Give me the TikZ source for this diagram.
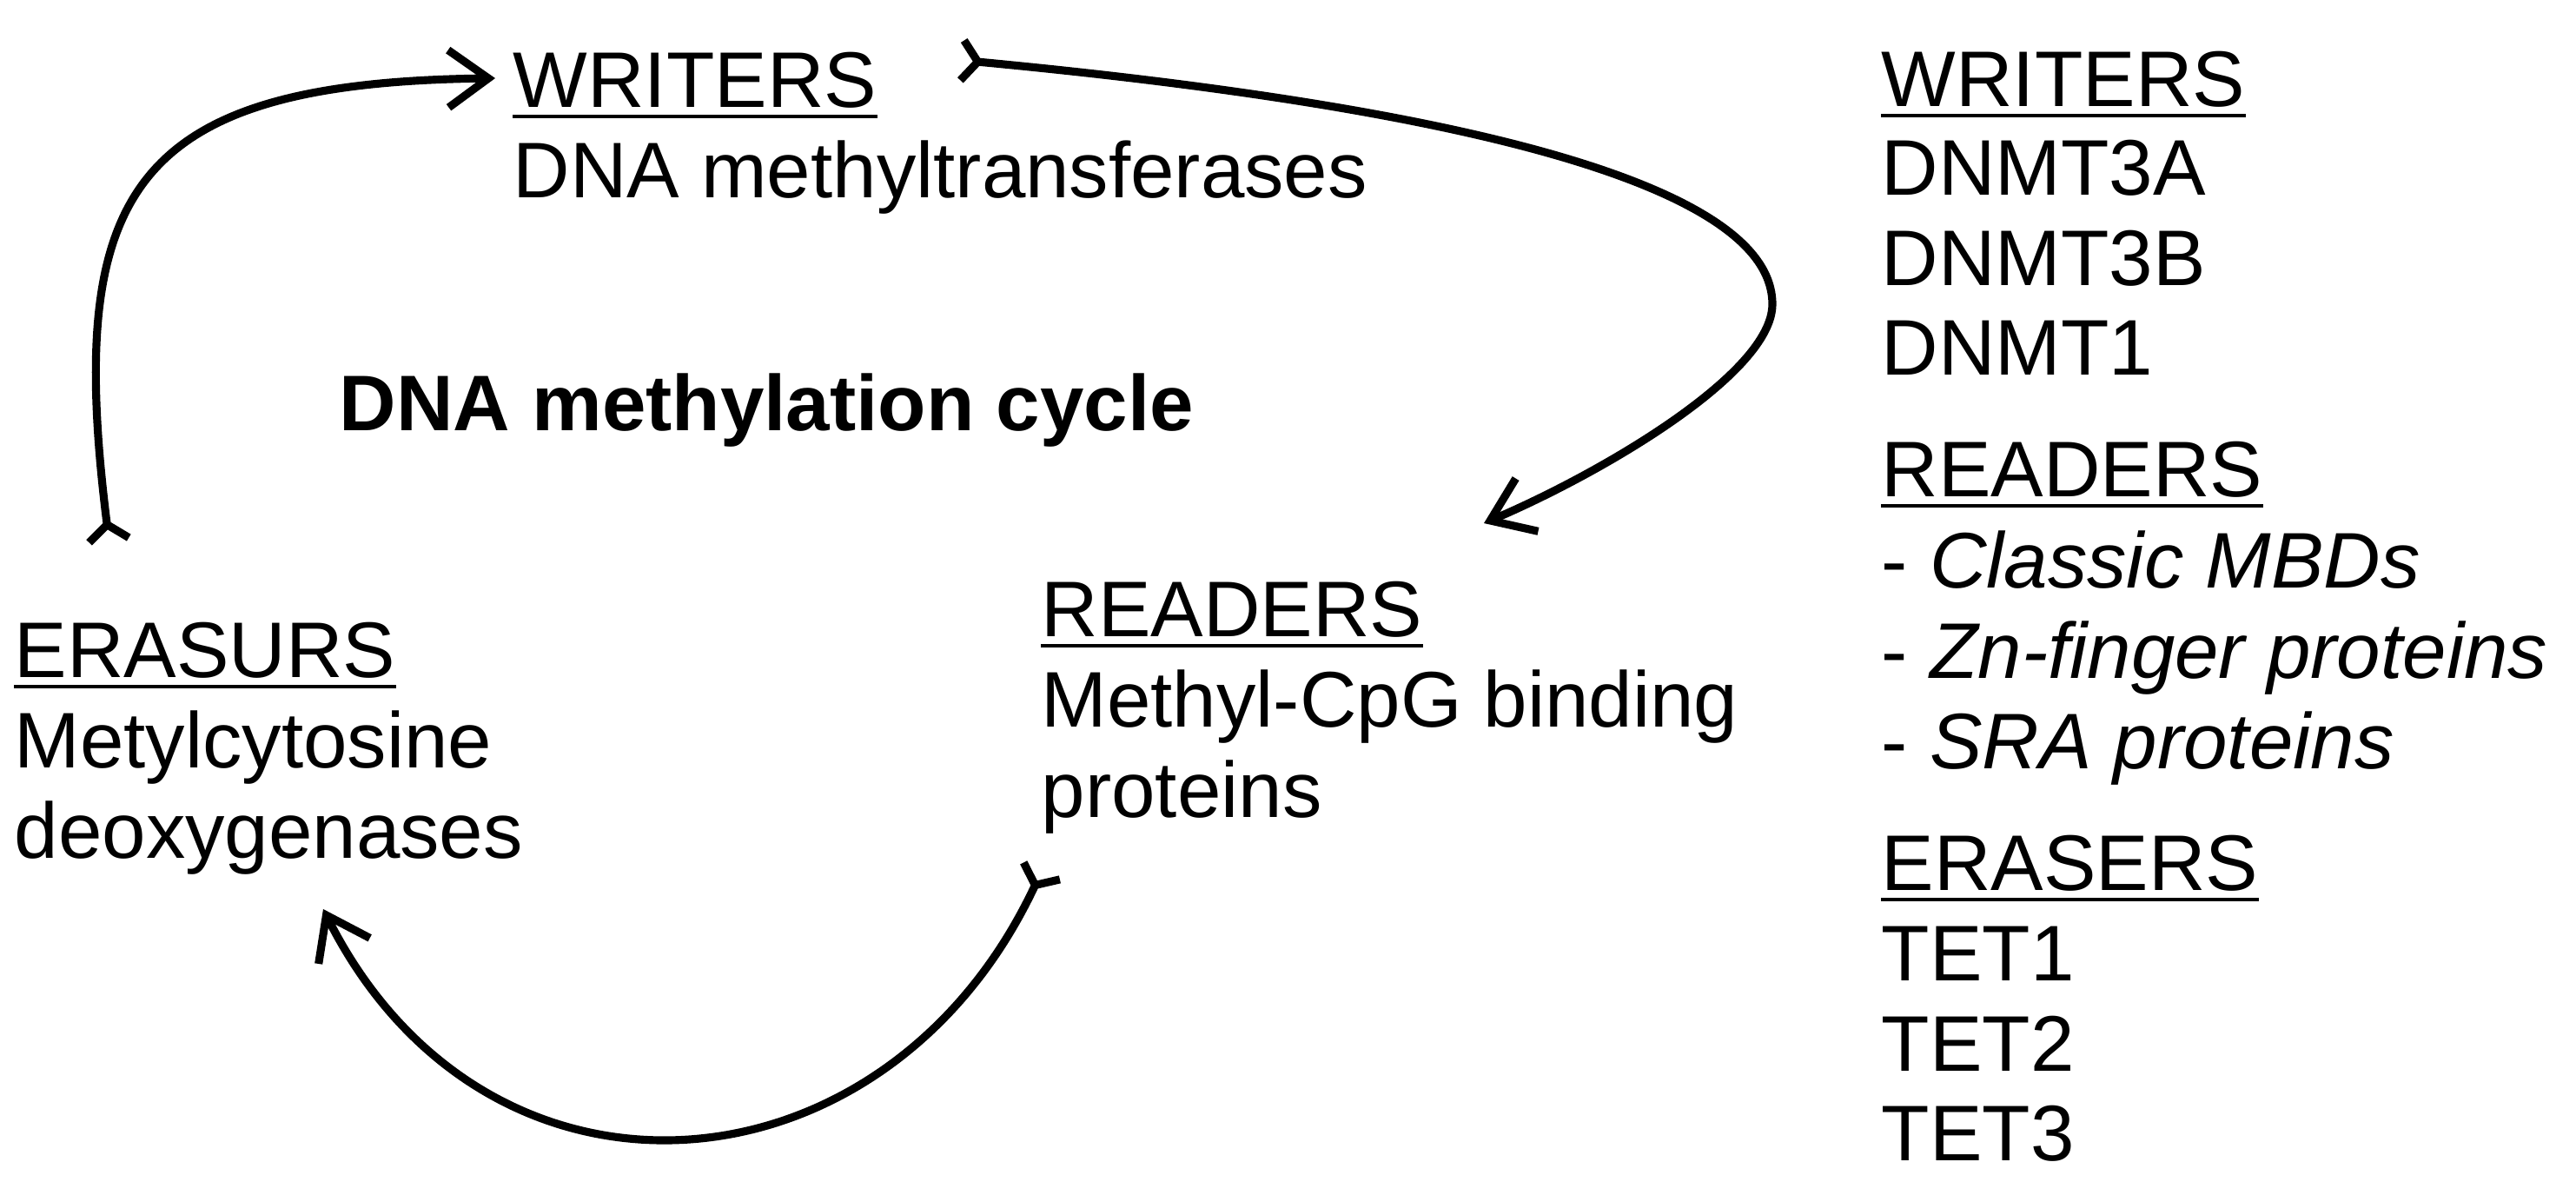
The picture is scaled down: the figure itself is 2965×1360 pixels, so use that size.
\documentclass[tikz,border=0pt]{standalone}
\usepackage{fontspec}
\setmainfont{Liberation Sans}
\usetikzlibrary{arrows.meta}
\begin{document}
\begin{tikzpicture}[x=0.01cm,y=-0.01cm,
  txt/.style={inner sep=0pt, anchor=base west, font=\fontsize{25.8pt}{29.6pt}\selectfont},
  bold/.style={txt, font=\fontsize{25.8pt}{29.6pt}\selectfont\bfseries},
  uline/.style={line width=1.4pt},
  cyc/.style={line width=2.6pt,
    {Straight Barb[reversed,length=1.8mm,width=4.6mm]}-{Straight Barb[length=4.6mm,width=6.6mm]}}
]
\useasboundingbox (0,0) rectangle (2965,1360);

% left cycle texts
\node[txt] (wL) at (590,123) {WRITERS};
\node[txt] (wLd) at (590,227) {DNA methyltransferases};
\node[bold] (title) at (390,495) {DNA methylation cycle};
\node[txt] (eL) at (16,779) {ERASURS};
\node[txt] (eLd1) at (16,883) {Metylcytosine};
\node[txt] (eLd2) at (16,987) {deoxygenases};
\node[txt] (rL) at (1198,732) {READERS};
\node[txt] (rLd1) at (1198,836) {Methyl-CpG binding};
\node[txt] (rLd2) at (1198,940) {proteins};

% right column
\node[txt] (rw) at (2165,122) {WRITERS};
\node[txt] (rw1) at (2165,224) {DNMT3A};
\node[txt] (rw2) at (2165,328) {DNMT3B};
\node[txt] (rw3) at (2165,431) {DNMT1};
\node[txt] (rr) at (2165,571) {READERS};
\node[txt] (rr1) at (2165,676) {- \textit{Classic MBDs}};
\node[txt] (rr2) at (2165,780) {- \textit{Zn-finger proteins}};
\node[txt] (rr3) at (2165,884) {- \textit{SRA proteins}};
\node[txt] (re) at (2165,1024) {ERASERS};
\node[txt] (re1) at (2165,1128) {TET1};
\node[txt] (re2) at (2165,1232) {TET2};
\node[txt] (re3) at (2165,1335) {TET3};

% underlines
\foreach \n in {wL,eL,rL,rw,rr,re}
  \draw[uline] ([yshift=-0.11cm]\n.base west) -- ([yshift=-0.11cm]\n.base east);

% cycle arrows
\coordinate (a1s) at (126,626);
\coordinate (a1e) at (570,90);
\coordinate (a2s) at (1103,69);
\coordinate (a2m) at (2040,350);
\coordinate (a2e) at (1708,602);
\coordinate (a3s) at (1201,998);
\coordinate (a3e) at (372,1046);

\draw[cyc] (a1s) .. controls (75,220) and (150,95) .. (a1e);
\draw[cyc] (a2s) .. controls (1612,117) and (2040,200) .. (a2m)
                 .. controls (2040,430) and (1842,545) .. (a2e);
\draw[cyc] (a3s) .. controls (1020,1385) and (560,1420) .. (a3e);
\end{tikzpicture}
\end{document}
